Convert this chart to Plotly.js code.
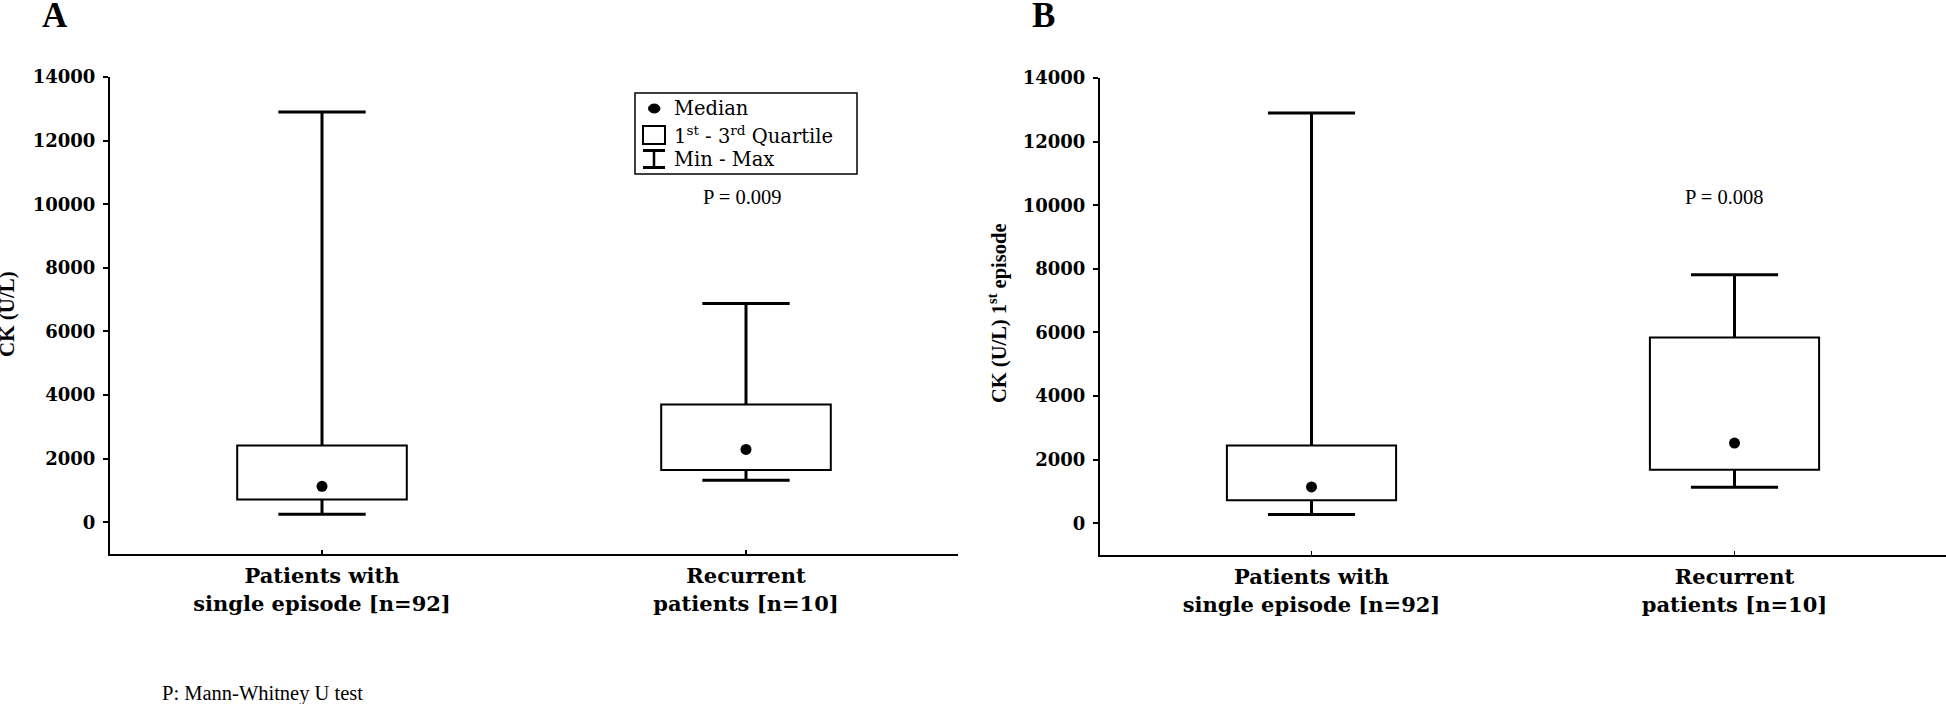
<!DOCTYPE html>
<html>
<head>
<meta charset="utf-8">
<script src="https://cdn.plot.ly/plotly-3.0.1.min.js"></script>
<style>
  html, body { margin: 0; padding: 0; background: #ffffff; }
  #chart { width: 1946px; height: 704px; }
</style>
</head>
<body>
<div id="chart"></div>
<script>
// ---------------- data ----------------
const categories = ['Patients with<br>single episode [n=92]', 'Recurrent<br>patients [n=10]'];
const yTicks = [0, 2000, 4000, 6000, 8000, 10000, 12000, 14000];

// Panel A: CK (U/L)
const minA    = [250, 1320];
const q1A     = [715, 1640];
const medianA = [1130, 2290];
const q3A     = [2415, 3700];
const maxA    = [12900, 6880];

// Panel B: CK (U/L) 1st episode
const minB    = [270, 1130];
const q1B     = [720, 1680];
const medianB = [1140, 2520];
const q3B     = [2445, 5840];
const maxB    = [12900, 7810];

const pValueA = 'P = 0.009';
const pValueB = 'P = 0.008';

// ---------------- styling ----------------
const W = 1946, H = 704;
const px = v => v / W;
const py = v => 1 - v / H;
const BOX_WIDTH = 0.4;
const CAP_HALF = 0.103;
const boldSerifWide = { family: 'DejaVu Serif', size: 21, color: '#000', weight: 'bold' };

function panelTraces(mins, q1s, meds, q3s, maxs, xa, ya) {
  const idx = categories.map((c, i) => i);
  const bar = {
    type: 'bar', x: idx, base: q1s, y: q3s.map((v, i) => v - q1s[i]),
    width: BOX_WIDTH, xaxis: xa, yaxis: ya,
    marker: { color: '#ffffff', line: { color: '#000', width: 2 } },
    hoverinfo: 'skip', showlegend: false
  };
  const wx = [], wy = [], cx = [], cy = [];
  idx.forEach(i => {
    wx.push(i, i, null, i, i, null);
    wy.push(maxs[i], q3s[i], null, q1s[i], mins[i], null);
    cx.push(i - CAP_HALF, i + CAP_HALF, null, i - CAP_HALF, i + CAP_HALF, null);
    cy.push(maxs[i], maxs[i], null, mins[i], mins[i], null);
  });
  const whisk = {
    type: 'scatter', mode: 'lines', x: wx, y: wy, xaxis: xa, yaxis: ya,
    line: { color: '#000', width: 3 }, hoverinfo: 'skip', showlegend: false
  };
  const caps = {
    type: 'scatter', mode: 'lines', x: cx, y: cy, xaxis: xa, yaxis: ya,
    line: { color: '#000', width: 3 }, hoverinfo: 'skip', showlegend: false
  };
  const med = {
    type: 'scatter', mode: 'markers', x: idx, y: meds, xaxis: xa, yaxis: ya,
    marker: { symbol: 'circle', size: 11, color: '#000' }, showlegend: false
  };
  return [bar, whisk, caps, med];
}

const data = [].concat(
  panelTraces(minA, q1A, medianA, q3A, maxA, 'x', 'y'),
  panelTraces(minB, q1B, medianB, q3B, maxB, 'x2', 'y2')
);

function xAxis(domain, anchor) {
  return {
    domain: domain, anchor: anchor, range: [-0.5, 1.5],
    tickmode: 'array', tickvals: [0, 1], ticktext: categories,
    showline: true, linecolor: '#000', linewidth: 2,
    ticks: 'inside', ticklen: 4, tickwidth: 1.5, tickcolor: '#000',
    showgrid: false, zeroline: false, fixedrange: true,
    tickfont: boldSerifWide, ticklabelstandoff: 2
  };
}
function yAxis(domain, anchor) {
  return {
    domain: domain, anchor: anchor, range: [-1000, 14000],
    tickmode: 'array', tickvals: yTicks, ticktext: yTicks.map(String),
    showline: true, linecolor: '#000', linewidth: 2,
    ticks: 'outside', ticklen: 5, tickwidth: 2, tickcolor: '#000',
    showgrid: false, zeroline: false, fixedrange: true,
    tickfont: { family: 'DejaVu Serif', size: 18, color: '#000', weight: 'bold' },
    ticklabelstandoff: 4
  };
}

const legendFont = { family: 'DejaVu Serif', size: 19.5, color: '#000' };

const layout = {
  width: W, height: H,
  margin: { l: 0, r: 0, t: 0, b: 0, pad: 0 },
  paper_bgcolor: '#fff', plot_bgcolor: '#fff',
  font: { family: 'Liberation Serif', color: '#000' },
  showlegend: false,
  barmode: 'overlay',
  xaxis: xAxis([px(110), px(958)], 'y'),
  yaxis: yAxis([py(554), py(77)], 'x'),
  xaxis2: xAxis([px(1100), 1], 'y2'),
  yaxis2: yAxis([py(555), py(78)], 'x2'),
  shapes: [
    // legend frame
    { type: 'rect', xref: 'paper', yref: 'paper', x0: px(635), x1: px(857), y0: py(93), y1: py(174),
      line: { color: '#000', width: 1.5 }, fillcolor: 'rgba(0,0,0,0)' },
    // median symbol
    { type: 'circle', xref: 'paper', yref: 'paper', x0: px(648.5), x1: px(660), y0: py(104), y1: py(113),
      line: { color: '#000', width: 1 }, fillcolor: '#000' },
    // quartile box symbol
    { type: 'rect', xref: 'paper', yref: 'paper', x0: px(643), x1: px(665), y0: py(126), y1: py(144),
      line: { color: '#000', width: 2 }, fillcolor: 'rgba(0,0,0,0)' },
    // min-max symbol
    { type: 'line', xref: 'paper', yref: 'paper', x0: px(643), x1: px(665), y0: py(150.5), y1: py(150.5),
      line: { color: '#000', width: 3 } },
    { type: 'line', xref: 'paper', yref: 'paper', x0: px(654), x1: px(654), y0: py(150), y1: py(168),
      line: { color: '#000', width: 2.5 } },
    { type: 'line', xref: 'paper', yref: 'paper', x0: px(643), x1: px(665), y0: py(167.5), y1: py(167.5),
      line: { color: '#000', width: 3 } }
  ],
  annotations: [
    { text: 'A', xref: 'paper', yref: 'paper', x: px(55), y: py(15), xanchor: 'center', yanchor: 'middle',
      showarrow: false, font: { family: 'Liberation Serif', size: 35, color: '#000', weight: 'bold' } },
    { text: 'B', xref: 'paper', yref: 'paper', x: px(1043), y: py(15), xanchor: 'center', yanchor: 'middle',
      showarrow: false, font: { family: 'Liberation Serif', size: 35, color: '#000', weight: 'bold' } },
    { text: 'CK (U/L)', xref: 'paper', yref: 'paper', x: px(7), y: py(314), xanchor: 'center', yanchor: 'middle',
      textangle: -90, showarrow: false, font: { family: 'Liberation Serif', size: 21, color: '#000', weight: 'bold' } },
    { text: 'CK (U/L) 1<sup>st</sup> episode', xref: 'paper', yref: 'paper', x: px(997), y: py(313), xanchor: 'center', yanchor: 'middle',
      textangle: -90, showarrow: false, font: { family: 'Liberation Serif', size: 20.5, color: '#000', weight: 'bold' } },
    { text: 'Median', xref: 'paper', yref: 'paper', x: px(672), y: py(108), xanchor: 'left', yanchor: 'middle',
      showarrow: false, font: legendFont },
    { text: '1<sup>st</sup> - 3<sup>rd</sup> Quartile', xref: 'paper', yref: 'paper', x: px(672), y: py(135), xanchor: 'left', yanchor: 'middle',
      showarrow: false, font: legendFont },
    { text: 'Min - Max', xref: 'paper', yref: 'paper', x: px(672), y: py(159), xanchor: 'left', yanchor: 'middle',
      showarrow: false, font: legendFont },
    { text: pValueA, xref: 'paper', yref: 'paper', x: px(742), y: py(197), xanchor: 'center', yanchor: 'middle',
      showarrow: false, font: { family: 'Liberation Serif', size: 20.5, color: '#000' } },
    { text: pValueB, xref: 'paper', yref: 'paper', x: px(1724), y: py(197), xanchor: 'center', yanchor: 'middle',
      showarrow: false, font: { family: 'Liberation Serif', size: 20.5, color: '#000' } },
    { text: 'P: Mann-Whitney U test', xref: 'paper', yref: 'paper', x: px(160), y: py(693), xanchor: 'left', yanchor: 'middle',
      showarrow: false, font: { family: 'Liberation Serif', size: 20.5, color: '#000' } }
  ]
};

Plotly.newPlot('chart', data, layout, { staticPlot: true, displayModeBar: false });
</script>
</body>
</html>
